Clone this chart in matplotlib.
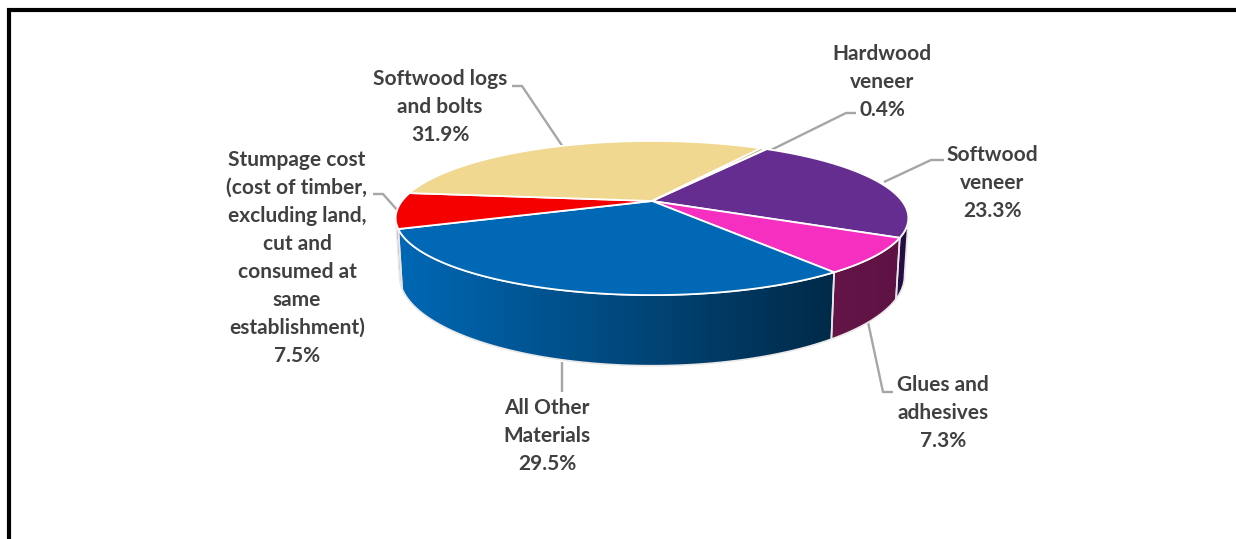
import matplotlib
matplotlib.use('Agg')
import matplotlib.pyplot as plt
import numpy as np
from matplotlib.patches import Polygon

# shares, clockwise from the top right of the pie
labels = ['Softwood\nveneer', 'Glues and\nadhesives', 'All Other\nMaterials',
          'Stumpage cost\n(cost of timber,\nexcluding land,\ncut and\nconsumed at\nsame\nestablishment)',
          'Softwood logs\nand bolts', 'Hardwood\nveneer']
shares = [23.3, 7.3, 29.5, 7.5, 31.9, 0.4]
top_colors = ['#662D91', '#F52FC0', '#0068B5', '#F50000', '#F0D890', '#B09A5A']
wall_left = ['#2A0F48', '#651548', '#0068B5', '#A00000', '#A08F5F', '#5A461F']
wall_right = ['#240C40', '#5E1243', '#002A48', '#A00000', '#A08F5F', '#5A461F']

# pie geometry in pixels, k is the perspective strength
CX, CY = 652, 201
RX, RY, K = 250, 73.3, 0.221
DEPTH = 55
START = 57.0

# label centre, then leader line points
label_pos = [(992, 183), (943, 413), (547, 436), (297, 258), (440, 107), (882, 82)]
leaders = [
    [(884, 182), (931, 160), (944, 160)],
    [(868, 322), (883, 392), (893, 392)],
    [(562, 362), (562, 392)],
    [(373, 194), (383, 194), (398, 211)],
    [(512, 86), (522, 86), (563, 147)],
    [(765, 153), (846, 113), (856, 113)],
]
TEXT = '#404040'
LEADER = '#A6A6A6'


def project(theta, depth=0.0):
    s = np.sin(theta)
    c = np.cos(theta)
    w = 1 + K * s
    shrink = 1 - 0.015 * (depth > 0)
    return CX + RX * shrink * c / w, CY - RY * s / w + depth / w


fig = plt.figure(figsize=(12.36, 5.39), dpi=100)
ax = fig.add_axes([0, 0, 1, 1])

ends = START - np.cumsum(shares) * 3.6
starts = ends + np.array(shares) * 3.6

vis_lo = 180 + np.degrees(np.arcsin(K))
vis_hi = 360 - np.degrees(np.arcsin(K))

# side walls first, with a left to right gradient
for a, b, c0, c1 in zip(starts, ends, wall_left, wall_right):
    hi = a % 360
    lo = hi - (a - b)
    segs = [(lo, hi), (lo + 360, hi + 360), (lo - 360, hi - 360)]
    for s0, s1 in segs:
        s0, s1 = max(s0, vis_lo), min(s1, vis_hi)
        if s1 <= s0:
            continue
        th = np.radians(np.linspace(s0, s1, 80))
        xt, yt = project(th)
        xb, yb = project(th, DEPTH)
        pts = np.r_[np.c_[xt, yt], np.c_[xb, yb][::-1]]
        grad = np.linspace(0, 1, 256)[None, :, None]
        rgb = np.array(matplotlib.colors.to_rgb(c0))[None, None, :] * (1 - grad) \
            + np.array(matplotlib.colors.to_rgb(c1))[None, None, :] * grad
        ext = [pts[:, 0].min(), pts[:, 0].max(), pts[:, 1].max(), pts[:, 1].min()]
        im = ax.imshow(rgb, extent=ext, aspect='auto', zorder=2)
        poly = Polygon(pts, closed=True, facecolor='none', edgecolor='#E8E8E8', lw=1.2, zorder=3)
        ax.add_patch(poly)
        im.set_clip_path(poly)

# top face
for a, b, col in zip(starts, ends, top_colors):
    th = np.radians(np.linspace(a, b, 120))
    xt, yt = project(th)
    ax.fill(np.r_[CX, xt], np.r_[CY, yt], facecolor=col, edgecolor='white', lw=1.3,
            joinstyle='round', zorder=4)

for pts in leaders:
    xs, ys = zip(*pts)
    ax.plot(xs, ys, color=LEADER, lw=1.7, solid_capstyle='butt', zorder=1)

for lab, share, (x, y) in zip(labels, shares, label_pos):
    ax.text(x, y, f'{lab}\n{share:.1f}%', ha='center', va='center', color=TEXT,
            family='Lato', fontweight='bold', fontsize=15, linespacing=1.5, zorder=6)

ax.set_xlim(0, 1236)
ax.set_ylim(539, 0)
ax.axis('off')

# only the top and left sides of the frame are in the picture
ax.plot([9, 9, 1236], [539, 9.5, 9.5], color='black', lw=3, solid_joinstyle='miter', zorder=7)

fig.savefig('out.png', dpi=100, facecolor='white')
